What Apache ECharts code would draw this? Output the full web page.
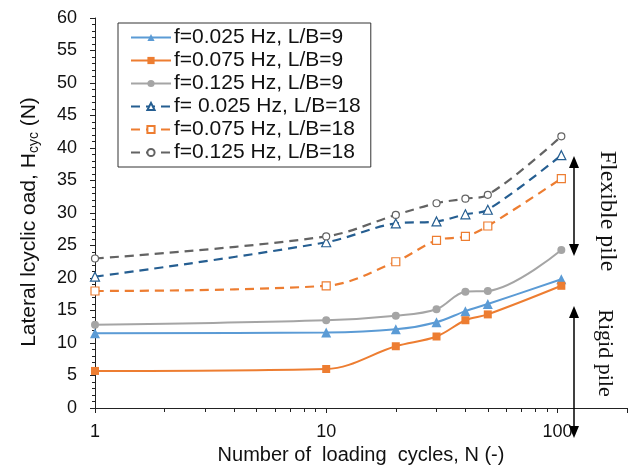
<!DOCTYPE html>
<html>
<head>
<meta charset="utf-8">
<script src="https://cdn.jsdelivr.net/npm/echarts@6/dist/echarts.min.js"></script>
<style>
  html, body { margin: 0; padding: 0; background: #fff; }
  #chart { width: 631px; height: 466px; }
</style>
</head>
<body>
<div id="chart"></div>
<script>
// loading cycles (x)
const cycles = [1, 10, 20, 30, 40, 50, 104];
// lateral cyclic load (N)
const f025_LB9 = [11.5, 11.6, 12.1, 13.2, 14.9, 16.0, 19.8];
const f075_LB9 = [5.7, 6.0, 9.5, 11.0, 13.5, 14.4, 18.8];
const f125_LB9 = [12.8, 13.5, 14.2, 15.2, 17.9, 18.0, 24.3];
const f025_LB18 = [20.2, 25.5, 28.4, 28.7, 29.8, 30.5, 38.9];
const f075_LB18 = [18.0, 18.8, 22.5, 25.8, 26.4, 28.0, 35.3];
const f125_LB18 = [23.0, 26.4, 29.7, 31.5, 32.2, 32.8, 41.8];

const pair = (ys) => cycles.map((x, i) => [x, ys[i]]);

const solid = (name, ys, color, symbol, size) => ({
  name,
  type: 'line',
  data: pair(ys),
  smooth: 0.35,
  symbol,
  symbolSize: size,
  lineStyle: { color, width: 2 },
  itemStyle: { color, borderWidth: 0 }
});

const dashed = (name, ys, color, symbol, size) => ({
  name,
  type: 'line',
  data: pair(ys),
  smooth: 0.35,
  symbol,
  symbolSize: size,
  lineStyle: { color, width: 2.2, type: [9, 6] },
  itemStyle: { color: '#fff', borderColor: color, borderWidth: 1.2 }
});

const chart = echarts.init(document.getElementById('chart'));
const axisColor = '#222';
const font = 'Liberation Sans, Arial';
const serif = 'Liberation Serif, Times New Roman';

chart.setOption({
  animation: false,
  grid: { left: 95, right: 4, top: 18, bottom: 58, containLabel: false, outerBoundsMode: 'none' },
  legend: {
    orient: 'vertical',
    left: 118,
    top: 23,
    padding: [4, 10, 4, 12],
    itemGap: 2,
    itemWidth: 40,
    itemHeight: 9,
    backgroundColor: '#fff',
    borderColor: '#333',
    borderWidth: 1,
    textStyle: { fontFamily: font, fontSize: 21, color: '#111', padding: [0, 0, 0, -2] },
    data: ['f=0.025 Hz, L/B=9', 'f=0.075 Hz, L/B=9', 'f=0.125 Hz, L/B=9',
           'f= 0.025 Hz, L/B=18', 'f=0.075 Hz, L/B=18', 'f=0.125 Hz, L/B=18']
  },
  xAxis: {
    type: 'log',
    logBase: 10,
    min: 1,
    max: 200,
    name: 'Number of  loading  cycles, N (-)',
    nameLocation: 'middle',
    nameGap: 34,
    nameTextStyle: { fontFamily: font, fontSize: 20, color: '#111' },
    axisLine: { lineStyle: { color: axisColor, width: 1 } },
    axisTick: { show: true, length: 5, lineStyle: { color: axisColor } },
    minorTick: { show: true, splitNumber: 9, length: 4, lineStyle: { color: axisColor } },
    axisLabel: {
      margin: 15,
      fontFamily: font,
      fontSize: 18,
      color: '#111',
      showMaxLabel: false,
      formatter: (v) => (v === 200 ? '' : String(v))
    },
    splitLine: { show: false }
  },
  yAxis: {
    type: 'value',
    min: 0,
    max: 60,
    interval: 5,
    name: 'Lateral lcyclic oad, H{sub|cyc} (N)',
    nameLocation: 'middle',
    nameGap: 54,
    nameTextStyle: {
      fontFamily: font,
      fontSize: 21,
      color: '#111',
      padding: [0, 18, 0, 0],
      rich: { sub: { fontSize: 14, padding: [10, 0, 0, 0], fontFamily: font, color: '#111' } }
    },
    axisLine: { show: true, lineStyle: { color: axisColor, width: 1 } },
    axisTick: { show: true, length: 5, lineStyle: { color: axisColor } },
    minorTick: { show: true, splitNumber: 5, length: 3, lineStyle: { color: axisColor } },
    axisLabel: { margin: 18, fontFamily: font, fontSize: 18, color: '#111' },
    splitLine: { show: false }
  },
  series: [
    solid('f=0.025 Hz, L/B=9', f025_LB9, '#5B9BD5', 'triangle', 10),
    solid('f=0.075 Hz, L/B=9', f075_LB9, '#ED7D31', 'rect', 8),
    solid('f=0.125 Hz, L/B=9', f125_LB9, '#A5A5A5', 'circle', 8),
    dashed('f= 0.025 Hz, L/B=18', f025_LB18, '#255E91', 'triangle', 9),
    dashed('f=0.075 Hz, L/B=18', f075_LB18, '#ED7D31', 'rect', 8),
    dashed('f=0.125 Hz, L/B=18', f125_LB18, '#636363', 'circle', 7)
  ],
  graphic: [
    // Flexible pile double arrow
    { type: 'line', shape: { x1: 574, y1: 166, x2: 574, y2: 246 }, style: { stroke: '#000', lineWidth: 1.5 }, z: 100 },
    { type: 'polygon', shape: { points: [[574, 156], [569, 168], [579, 168]] }, style: { fill: '#000' }, z: 100 },
    { type: 'polygon', shape: { points: [[574, 256], [569, 244], [579, 244]] }, style: { fill: '#000' }, z: 100 },
    {
      type: 'text', x: 607, y: 211, rotation: -Math.PI / 2, z: 100,
      style: { text: 'Flexible pile', fontFamily: serif, fontSize: 24, fill: '#111', align: 'center', verticalAlign: 'middle' }
    },
    // Rigid pile double arrow
    { type: 'line', shape: { x1: 574, y1: 316, x2: 574, y2: 428 }, style: { stroke: '#000', lineWidth: 1.5 }, z: 100 },
    { type: 'polygon', shape: { points: [[574, 306], [569, 318], [579, 318]] }, style: { fill: '#000' }, z: 100 },
    { type: 'polygon', shape: { points: [[574, 438], [569, 426], [579, 426]] }, style: { fill: '#000' }, z: 100 },
    {
      type: 'text', x: 605, y: 353, rotation: -Math.PI / 2, z: 100,
      style: { text: 'Rigid pile', fontFamily: serif, fontSize: 22, fill: '#111', align: 'center', verticalAlign: 'middle' }
    }
  ]
});
</script>
</body>
</html>
